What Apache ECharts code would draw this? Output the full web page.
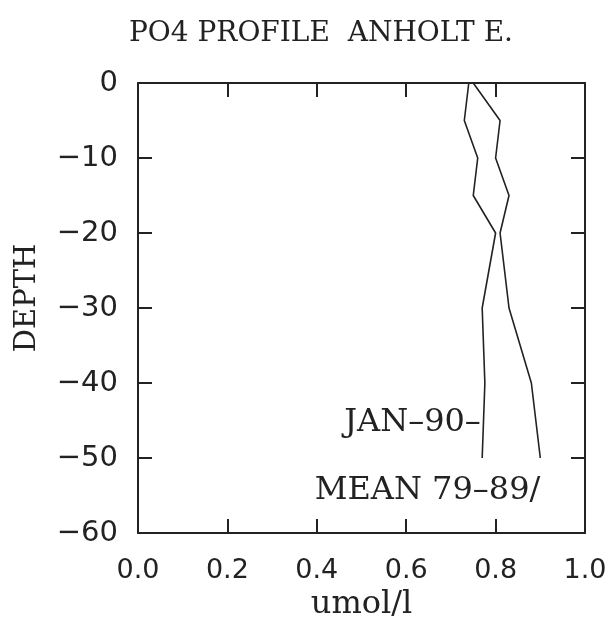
<!DOCTYPE html>
<html>
<head>
<meta charset="utf-8">
<script src="https://cdn.jsdelivr.net/npm/echarts@6/dist/echarts.min.js"></script>
<style>
html,body{margin:0;padding:0;background:#fff;}
#main{width:613px;height:618px;}
</style>
</head>
<body>
<div id="main"></div>
<script>
var depths = [0, -5, -10, -15, -20, -30, -40, -50];
var jan90 = [0.74, 0.73, 0.76, 0.75, 0.80, 0.77, 0.776, 0.77];
var mean7989 = [0.75, 0.81, 0.80, 0.83, 0.81, 0.83, 0.88, 0.90];
var xTicks = [0.0, 0.2, 0.4, 0.6, 0.8, 1.0];
var yTicks = [0, -10, -20, -30, -40, -50, -60];
var titleText = 'PO4 PROFILE  ANHOLT E.';
var xName = 'umol/l';
var yName = 'DEPTH';
var janLabel = 'JAN\u201390\u2013';
var meanLabel = 'MEAN 79\u201389/';

function pairs(xs, ys){ return xs.map(function(v,i){ return [v, ys[i]]; }); }

var serif = 'DejaVu Serif';
var sans = 'DejaVu Sans';
var ink = '#222';
var chart = echarts.init(document.getElementById('main'));
var axisCommon = {
  type: 'value',
  axisLine: {show: true, onZero: false, lineStyle: {color: ink, width: 2}},
  axisTick: {show: true, inside: true, length: 14, lineStyle: {color: ink, width: 2}},
  splitLine: {show: false}
};
chart.setOption({
  animation: false,
  backgroundColor: '#fff',
  title: {
    text: titleText, left: 316, top: 15, textAlign: 'center',
    textStyle: {fontFamily: serif, fontSize: 28, fontWeight: 'normal', color: ink}
  },
  grid: {left: 138, right: 28, top: 83, bottom: 85, containLabel: false, outerBoundsMode: 'none'},
  xAxis: [
    Object.assign({}, axisCommon, {
      position: 'bottom', min: 0, max: 1, interval: 0.2,
      axisLabel: {margin: 24, fontFamily: sans, fontSize: 27, color: ink,
        formatter: function(v){ return v.toFixed(1); }},
      name: xName, nameLocation: 'middle', nameGap: 54,
      nameTextStyle: {fontFamily: serif, fontSize: 32, color: ink}
    }),
    Object.assign({}, axisCommon, {
      position: 'top', min: 0, max: 1, interval: 0.2,
      axisLabel: {show: false}
    })
  ],
  yAxis: [
    Object.assign({}, axisCommon, {
      position: 'left', min: -60, max: 0, interval: 10,
      axisLabel: {margin: 20, fontFamily: sans, fontSize: 29, color: ink,
        formatter: function(v){ return v < 0 ? '\u2212' + Math.abs(v) : String(v); }},
      name: yName, nameLocation: 'middle', nameGap: 96, nameRotate: 90,
      nameTextStyle: {fontFamily: serif, fontSize: 29, color: ink, padding: [0, 0, 0, 20]}
    }),
    Object.assign({}, axisCommon, {
      position: 'right', min: -60, max: 0, interval: 10,
      axisLabel: {show: false}
    })
  ],
  series: [
    {
      type: 'line', name: 'JAN-90', data: pairs(jan90, depths),
      symbol: 'none', lineStyle: {color: ink, width: 1.6},
      markPoint: {
        symbol: 'circle', symbolSize: 0,
        data: [{coord: [jan90[6], -45.3]}],
        label: {show: true, position: 'left', distance: 4, formatter: janLabel,
          fontFamily: serif, fontSize: 32, color: ink}
      }
    },
    {
      type: 'line', name: 'MEAN 79-89', data: pairs(mean7989, depths),
      symbol: 'none', lineStyle: {color: ink, width: 1.6},
      markPoint: {
        symbol: 'circle', symbolSize: 0,
        data: [{coord: [mean7989[7], -50]}],
        label: {show: true, position: 'left', distance: 0, offset: [0, 33], formatter: meanLabel,
          fontFamily: serif, fontSize: 32, color: ink}
      }
    }
  ]
});
</script>
</body>
</html>
